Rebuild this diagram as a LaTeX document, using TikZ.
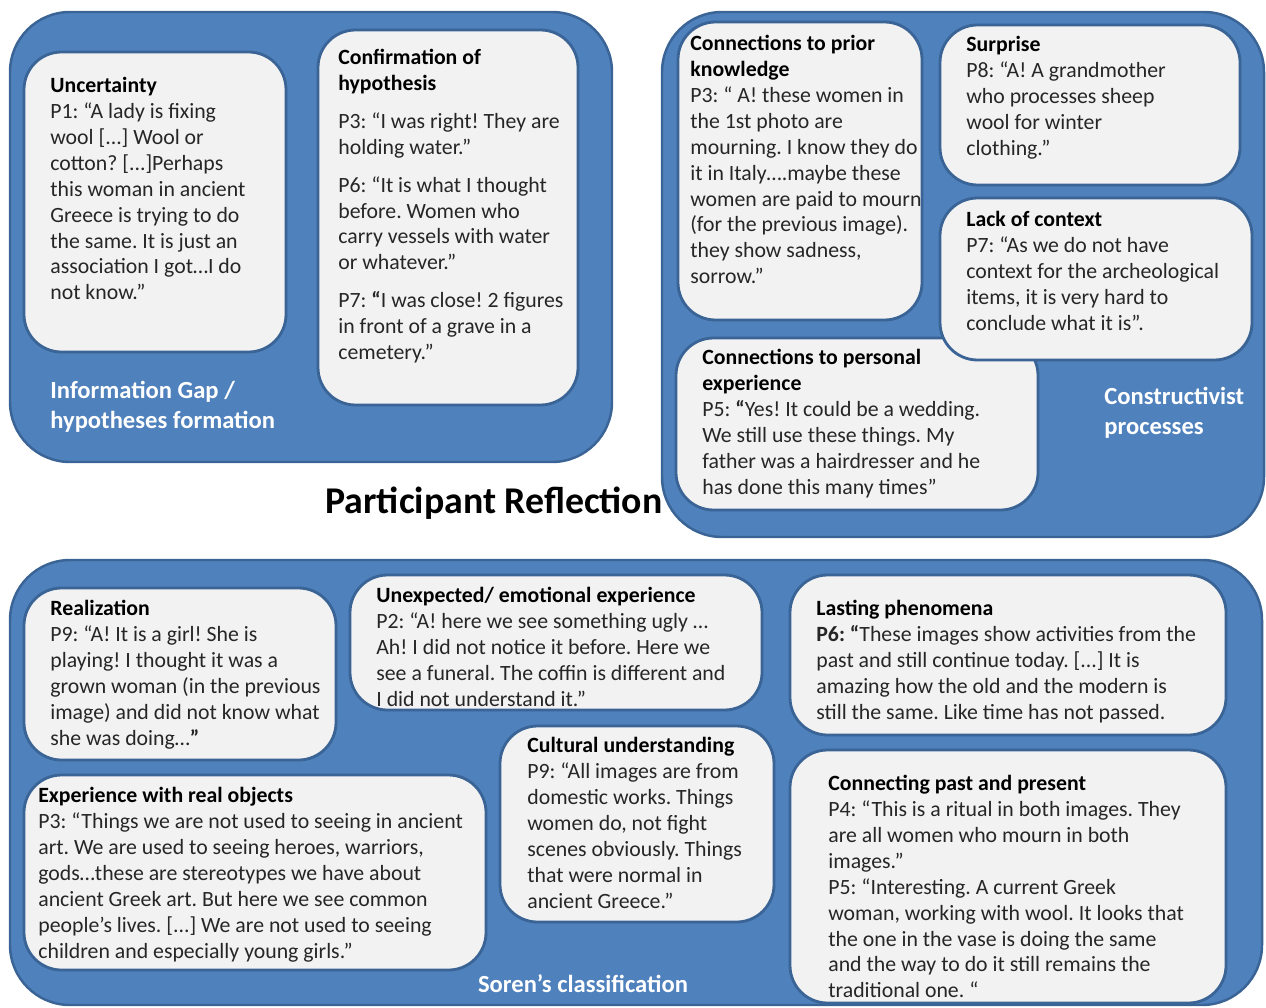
\documentclass[tikz,border=0pt]{standalone}
\usepackage{fontspec}
\setmainfont{Carlito}
\frenchspacing
\definecolor{grpblue}{HTML}{4F81BD}
\definecolor{grpline}{HTML}{3A6495}
\definecolor{cardfill}{HTML}{F2F2F2}
\definecolor{quotegray}{HTML}{262626}
\tikzset{
  groupbox/.style={fill=grpblue, draw=grpline, line width=1.4pt, rounded corners=1.2cm},
  cardbox/.style={fill=cardfill, draw=grpline, line width=1.6pt, rounded corners=0.75cm},
  cardtext/.style={anchor=north west, inner sep=0pt, align=left, text=quotegray,
    font=\fontsize{12.4}{14.74}\selectfont},
  grouplabel/.style={anchor=north west, inner sep=0pt, align=left, text=white,
    font=\bfseries\fontsize{14}{17}\selectfont},
}

\begin{document}
\begin{tikzpicture}[x=0.02cm, y=-0.02cm]

  \useasboundingbox (0, 0) rectangle (1266, 1007);

  % top left group
  \draw[groupbox] (10, 12) rectangle (612, 462);
  \draw[cardbox] (24, 52) rectangle (286, 352);
  \draw[cardbox] (318, 30) rectangle (578, 405);

  \node[cardtext] (uncert) at (50, 77) {\textbf{\color{black}Uncertainty}\\
    P1: “A lady is fixing\\ wool [...] Wool or\\ cotton? [...]Perhaps\\
    this woman in ancient\\ Greece is trying to do\\ the same. It is just an\\
    association I got…I do\\ not know.”};
  \node[cardtext] (confirm) at (338, 49) {\textbf{\color{black}Confirmation of}\\
    \textbf{\color{black}hypothesis}\\[6.8pt]
    P3: “I was right! They are\\ holding water.”\\[6.8pt]
    P6: “It is what I thought\\ before. Women who\\ carry vessels with water\\ or whatever.”\\[6.8pt]
    P7: \textbf{“}I was close! 2 figures\\ in front of a grave in a\\ cemetery.”};
  \node[grouplabel] (infogap) at (50, 381) {Information Gap /\\ hypotheses formation};

  % top right group
  \draw[groupbox] (662, 12) rectangle (1264, 537);
  \draw[cardbox] (678, 22) rectangle (922, 320);
  \draw[cardbox] (676, 338) rectangle (1038, 510);
  \draw[cardbox] (940, 25) rectangle (1240, 185);
  \draw[cardbox] (940, 198) rectangle (1252, 360);

  \node[cardtext] (prior) at (690, 35) {\textbf{\color{black}Connections to prior}\\
    \textbf{\color{black}knowledge}\\
    P3: “ A! these women in\\ the 1st photo are\\ mourning. I know they do\\
    it in Italy….maybe these\\ women are paid to mourn\\ (for the previous image).\\
    they show sadness,\\ sorrow.”};
  \node[cardtext] (personal) at (702, 349) {\textbf{\color{black}Connections to personal}\\
    \textbf{\color{black}experience}\\
    P5: \textbf{“}Yes! It could be a wedding.\\ We still use these things. My\\
    father was a hairdresser and he\\ has done this many times”};
  \node[cardtext] (surprise) at (966, 36) {\textbf{\color{black}Surprise}\\
    P8: “A! A grandmother\\ who processes sheep\\ wool for winter\\ clothing.”};
  \node[cardtext] (context) at (966, 211) {\textbf{\color{black}Lack of context}\\
    P7: “As we do not have\\ context for the archeological\\ items, it is very hard to\\
    conclude what it is”.};
  \node[grouplabel] (construct) at (1104, 387) {Constructivist\\ processes};

  \node[font=\bfseries\fontsize{21.5}{25}\selectfont] (title) at (494, 503) {Participant Reflection};

  % bottom group
  \draw[groupbox] (10, 560) rectangle (1262, 1005);
  \draw[cardbox] (24, 588) rectangle (336, 760);
  \draw[cardbox] (350, 575) rectangle (762, 710);
  \draw[cardbox] (790, 575) rectangle (1226, 735);
  \draw[cardbox] (24, 775) rectangle (486, 970);
  \draw[cardbox] (500, 726) rectangle (774, 922);
  \draw[cardbox] (790, 750) rectangle (1226, 1003);

  \node[cardtext] (realize) at (50, 600) {\textbf{\color{black}Realization}\\
    P9: “A! It is a girl! She is\\ playing! I thought it was a\\
    grown woman (in the previous\\ image) and did not know what\\
    she was doing…\textbf{”}};
  \node[cardtext] (unexpect) at (376, 587) {\textbf{\color{black}Unexpected/ emotional experience}\\
    P2: “A! here we see something ugly …\\ Ah! I did not notice it before. Here we\\
    see a funeral. The coffin is different and\\ I did not understand it.”};
  \node[cardtext] (lasting) at (816, 600) {\textbf{\color{black}Lasting phenomena}\\
    \textbf{P6: “}These images show activities from the\\
    past and still continue today. [...] It is\\ amazing how the old and the modern is\\
    still the same. Like time has not passed.};
  \node[cardtext] (realobj) at (38, 787) {\textbf{\color{black}Experience with real objects}\\
    P3: “Things we are not used to seeing in ancient\\ art. We are used to seeing heroes, warriors,\\
    gods…these are stereotypes we have about\\ ancient Greek art. But here we see common\\
    people’s lives. [...] We are not used to seeing\\ children and especially young girls.”};
  \node[cardtext] (cultural) at (527, 737) {\textbf{\color{black}Cultural understanding}\\
    P9: “All images are from\\ domestic works. Things\\ women do, not fight\\
    scenes obviously. Things\\ that were normal in\\ ancient Greece.”};
  \node[cardtext] (pastnow) at (828, 775) {\textbf{\color{black}Connecting past and present}\\
    P4: “This is a ritual in both images. They\\ are all women who mourn in both\\ images.”\\
    P5: “Interesting. A current Greek\\ woman, working with wool. It looks that\\
    the one in the vase is doing the same\\ and the way to do it still remains the\\
    traditional one. “};
  \node[grouplabel, anchor=center] (soren) at (583, 984) {Soren’s classification};

\end{tikzpicture}
\end{document}
